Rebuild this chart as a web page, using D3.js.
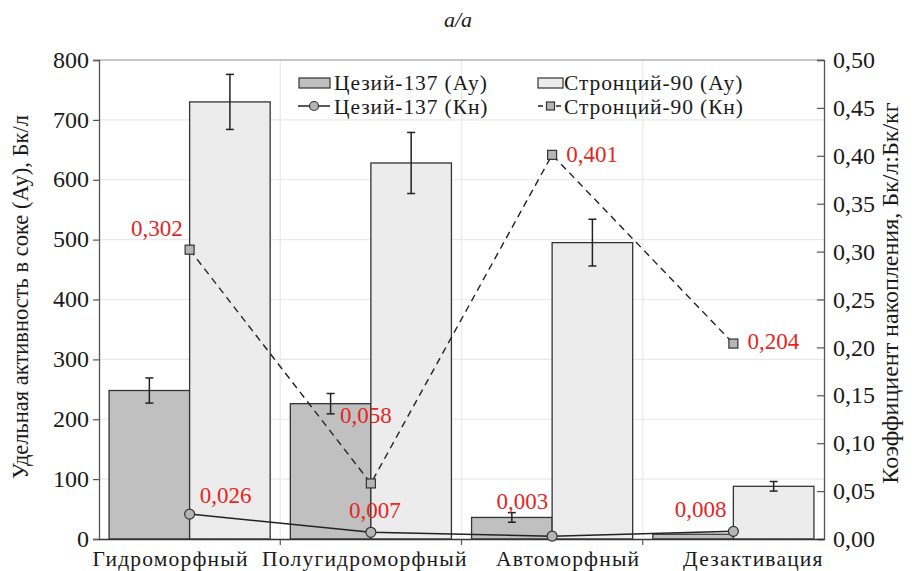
<!DOCTYPE html>
<html>
<head>
<meta charset="utf-8">
<script src="https://cdn.jsdelivr.net/npm/d3@7"></script>
<style>
  body { margin: 0; background: #fff; }
  svg text { font-family: "Liberation Serif", "Times New Roman", "DejaVu Serif", serif; }
</style>
</head>
<body>
<svg id="chart" width="916" height="571"></svg>
<script>
// Soil types
const categories = ["Гидроморфный", "Полугидроморфный", "Автоморфный", "Дезактивация"];
// Specific activity in sap (Ау), Бк/л
const cesiumAy = [248, 226, 36, 8];
const cesiumAyErr = [21, 17, 8, 0];
const strontiumAy = [730, 628, 495, 88];
const strontiumAyErr = [46, 51, 39, 8];
// Accumulation coefficient (Кн)
const cesiumKn = [0.026, 0.007, 0.003, 0.008];
const strontiumKn = [0.302, 0.058, 0.401, 0.204];
const cesiumKnLabels = ["0,026", "0,007", "0,003", "0,008"];
const strontiumKnLabels = ["0,302", "0,058", "0,401", "0,204"];
// Axis ticks
const leftTicks = [0, 100, 200, 300, 400, 500, 600, 700, 800];
const rightTicks = [0, 0.05, 0.10, 0.15, 0.20, 0.25, 0.30, 0.35, 0.40, 0.45, 0.50];

// Label placement relative to each point: [dx, dy, anchor]
const cesiumLabelPos = [[10, -11, "start"], [4, -14, "middle"], [-4, -27, "end"], [-7, -14, "end"]];
const strontiumLabelPos = [[-7, -14, "end"], [-5, -60, "middle"], [14, 7, "start"], [14, 5, "start"]];
// Horizontal shift of each category label from its band centre
const categoryLabelShift = [-19, -6, 16, 20];

const svg = d3.select("#chart");
const m = { left: 99, right: 824, top: 60, bottom: 539 };

const x = d3.scaleBand().domain(categories).range([m.left, m.right]).paddingInner(0).paddingOuter(0);
const inner = d3.scaleBand().domain(["cs", "sr"]).range([0, x.bandwidth()]).paddingOuter(0.125).paddingInner(0);
const yL = d3.scaleLinear().domain([0, 800]).range([m.bottom, m.top]);
const yR = d3.scaleLinear().domain([0, 0.5]).range([m.bottom, m.top]);

const gridColor = "#e9e9e9";
const axisColor = "#555";
const red = "#e4261f";

// Grid
svg.append("g").selectAll("line").data(leftTicks.slice(1)).join("line")
  .attr("x1", m.left).attr("x2", m.right)
  .attr("y1", d => yL(d)).attr("y2", d => yL(d))
  .attr("stroke", gridColor).attr("stroke-width", 1.2);
svg.append("g").selectAll("line").data(categories.slice(1)).join("line")
  .attr("x1", d => x(d)).attr("x2", d => x(d))
  .attr("y1", m.top).attr("y2", m.bottom)
  .attr("stroke", gridColor).attr("stroke-width", 1.2);

// Top frame
svg.append("line").attr("x1", m.left).attr("x2", m.right).attr("y1", m.top).attr("y2", m.top)
  .attr("stroke", "#999").attr("stroke-width", 1.2);

// Bars
const barG = svg.append("g");
categories.forEach((c, i) => {
  barG.append("rect")
    .attr("x", x(c) + inner("cs")).attr("width", inner.bandwidth())
    .attr("y", yL(cesiumAy[i])).attr("height", yL(0) - yL(cesiumAy[i]))
    .attr("fill", "#c0c0c0").attr("stroke", "#333").attr("stroke-width", 1.3);
  barG.append("rect")
    .attr("x", x(c) + inner("sr")).attr("width", inner.bandwidth())
    .attr("y", yL(strontiumAy[i])).attr("height", yL(0) - yL(strontiumAy[i]))
    .attr("fill", "#ececec").attr("stroke", "#333").attr("stroke-width", 1.3);
});

// Error bars
function errBar(cx, v, e) {
  if (!e) return;
  const g = barG.append("g").attr("stroke", "#222").attr("stroke-width", 1.5);
  g.append("line").attr("x1", cx).attr("x2", cx).attr("y1", yL(v - e)).attr("y2", yL(v + e));
  g.append("line").attr("x1", cx - 4).attr("x2", cx + 4).attr("y1", yL(v - e)).attr("y2", yL(v - e));
  g.append("line").attr("x1", cx - 4).attr("x2", cx + 4).attr("y1", yL(v + e)).attr("y2", yL(v + e));
}
categories.forEach((c, i) => {
  errBar(x(c) + inner("cs") + inner.bandwidth() / 2, cesiumAy[i], cesiumAyErr[i]);
  errBar(x(c) + inner("sr") + inner.bandwidth() / 2, strontiumAy[i], strontiumAyErr[i]);
});

// Axes
const leftAxis = svg.append("g").attr("transform", `translate(${m.left},0)`)
  .call(d3.axisLeft(yL).tickValues(leftTicks).tickSize(6).tickPadding(4).tickFormat(d3.format("d")));
const rightAxis = svg.append("g").attr("transform", `translate(${m.right},0)`)
  .call(d3.axisRight(yR).tickValues(rightTicks).tickSize(-7).tickPadding(9)
    .tickFormat(d => d3.format(".2f")(d).replace(".", ",")));
const bottomAxis = svg.append("g").attr("transform", `translate(0,${m.bottom})`)
  .call(d3.axisBottom(x).tickSize(0).tickPadding(13));
// category separator ticks
svg.append("g").selectAll("line").data(categories.slice(1)).join("line")
  .attr("x1", d => x(d)).attr("x2", d => x(d))
  .attr("y1", m.bottom).attr("y2", m.bottom + 6)
  .attr("stroke", axisColor).attr("stroke-width", 1.2);

[leftAxis, rightAxis, bottomAxis].forEach(a => {
  a.attr("font-family", null);
  a.select(".domain").attr("stroke", axisColor).attr("stroke-width", 1.3);
  a.selectAll(".tick line").attr("stroke", axisColor).attr("stroke-width", 1.2);
  a.selectAll("text").attr("fill", "#1a1a1a").attr("font-size", 24);
});
leftAxis.selectAll("text").attr("dy", "0.3em");
bottomAxis.selectAll("text").attr("dy", "0.66em").attr("font-size", 21.5)
  .attr("letter-spacing", 1.2)
  .attr("dx", (d, i) => categoryLabelShift[i]);
bottomAxis.select(".domain").attr("stroke", "#333");

// Lines: Кн
const px = c => x(c) + x.bandwidth() / 2;
const line = d3.line().x(d => px(d[0])).y(d => yR(d[1]));
svg.append("path").datum(categories.map((c, i) => [c, strontiumKn[i]]))
  .attr("d", line).attr("fill", "none").attr("stroke", "#222").attr("stroke-width", 1.4)
  .attr("stroke-dasharray", "7,5");
svg.append("path").datum(categories.map((c, i) => [c, cesiumKn[i]]))
  .attr("d", line).attr("fill", "none").attr("stroke", "#222").attr("stroke-width", 1.5);

svg.append("g").selectAll("rect").data(categories).join("rect")
  .attr("x", c => px(c) - 4.5).attr("y", (c, i) => yR(strontiumKn[i]) - 4.5)
  .attr("width", 9).attr("height", 9)
  .attr("fill", "#b5b5b5").attr("stroke", "#333").attr("stroke-width", 1.2);
svg.append("g").selectAll("circle").data(categories).join("circle")
  .attr("cx", c => px(c)).attr("cy", (c, i) => yR(cesiumKn[i])).attr("r", 5)
  .attr("fill", "#b5b5b5").attr("stroke", "#333").attr("stroke-width", 1.2);

// Value labels
function valueLabels(vals, texts, pos) {
  svg.append("g").selectAll("text").data(categories).join("text")
    .attr("x", (c, i) => px(c) + pos[i][0])
    .attr("y", (c, i) => yR(vals[i]) + pos[i][1])
    .attr("text-anchor", (c, i) => pos[i][2])
    .attr("fill", red).attr("font-size", 23)
    .text((c, i) => texts[i]);
}
valueLabels(cesiumKn, cesiumKnLabels, cesiumLabelPos);
valueLabels(strontiumKn, strontiumKnLabels, strontiumLabelPos);

// Axis titles
svg.append("text").attr("transform", `translate(28,297) rotate(-90)`)
  .attr("text-anchor", "middle").attr("font-size", 22.5).attr("fill", "#1a1a1a")
  .text("Удельная активность в соке (Ау), Бк/л");
svg.append("text").attr("transform", `translate(898,293) rotate(-90)`)
  .attr("text-anchor", "middle").attr("font-size", 24).attr("fill", "#1a1a1a")
  .text("Коэффициент накопления, Бк/л:Бк/кг");

// Title
svg.append("text").attr("x", 458).attr("y", 27).attr("text-anchor", "middle")
  .attr("font-size", 22).attr("font-style", "italic").attr("fill", "#1a1a1a").text("а/а");

// Legend
const lg = svg.append("g").attr("font-size", 21.5).attr("letter-spacing", 0.9).attr("fill", "#1a1a1a");
lg.append("rect").attr("x", 299).attr("y", 78).attr("width", 31).attr("height", 10)
  .attr("fill", "#c0c0c0").attr("stroke", "#333").attr("stroke-width", 1.2);
lg.append("text").attr("x", 334).attr("y", 90).text("Цезий-137 (Ау)");
lg.append("rect").attr("x", 538).attr("y", 78).attr("width", 25).attr("height", 10)
  .attr("fill", "#ececec").attr("stroke", "#333").attr("stroke-width", 1.2);
lg.append("text").attr("x", 564).attr("y", 90).text("Стронций-90 (Ау)");

lg.append("line").attr("x1", 298).attr("x2", 330).attr("y1", 106).attr("y2", 106)
  .attr("stroke", "#222").attr("stroke-width", 1.5);
lg.append("circle").attr("cx", 314).attr("cy", 106).attr("r", 4.5)
  .attr("fill", "#b5b5b5").attr("stroke", "#333").attr("stroke-width", 1.2);
lg.append("text").attr("x", 334).attr("y", 114).text("Цезий-137 (Кн)");
lg.append("line").attr("x1", 538).attr("x2", 563).attr("y1", 106).attr("y2", 106)
  .attr("stroke", "#222").attr("stroke-width", 1.4).attr("stroke-dasharray", "5,4");
lg.append("rect").attr("x", 546.5).attr("y", 102).attr("width", 8).attr("height", 8)
  .attr("fill", "#b5b5b5").attr("stroke", "#333").attr("stroke-width", 1.2);
lg.append("text").attr("x", 564).attr("y", 114).text("Стронций-90 (Кн)");
</script>
</body>
</html>
